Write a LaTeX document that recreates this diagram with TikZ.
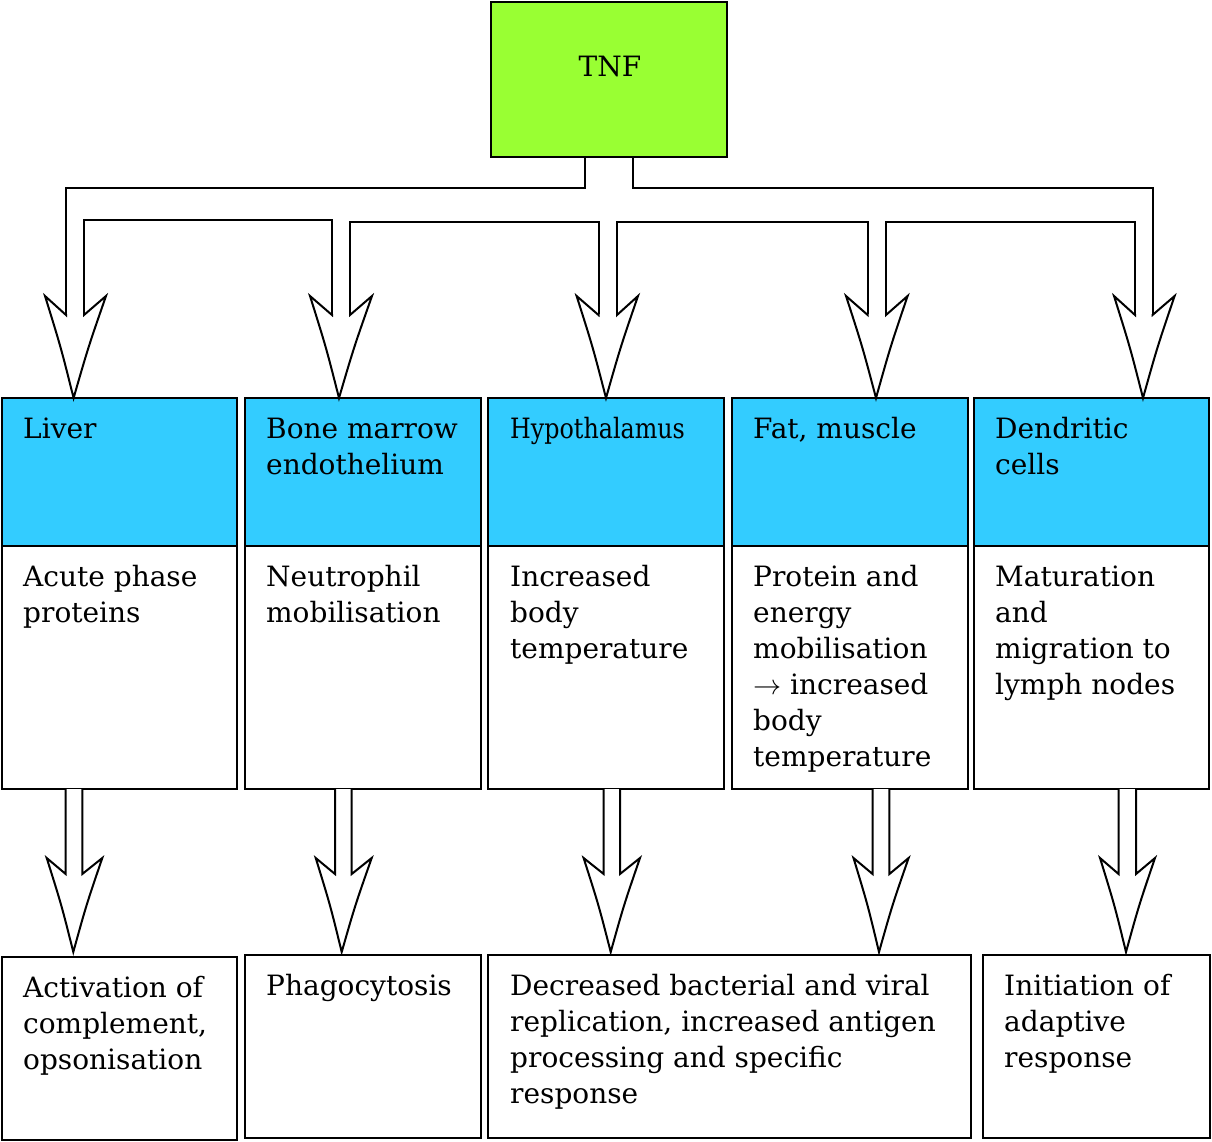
\documentclass[tikz,border=0pt]{standalone}
\usepackage{fontspec}
\setmainfont{DejaVu Serif}
\usetikzlibrary{calc}
\definecolor{tnfgreen}{RGB}{153,255,51}
\definecolor{hdrblue}{RGB}{51,204,255}
\newcommand\blockhead[9]{%
  \draw[arr] (#1,#6) -- (#1,#7) -- (#3,#8)
    .. controls ({(#3+#5)/2+1.5},{(#8+#9)/2}) .. (#5,#9)
    .. controls ({(#4+#5)/2-1.5},{(#8+#9)/2}) .. (#4,#8)
    -- (#2,#7) -- (#2,#6);}
\begin{document}
\begin{tikzpicture}[x=1pt,y=-1pt,
  box/.style={draw=black,line width=2pt},
  arr/.style={draw=black,line width=2pt,fill=white,line join=miter},
  conn/.style={draw=black,line width=2pt},
  txt/.style={anchor=north west,inner sep=0pt,align=left,font=\fontsize{28}{36}\selectfont}]
\useasboundingbox (0,0) rectangle (1212,1142);
\fill[white] (0,0) rectangle (1212,1142);
% TNF
\draw[box,fill=tnfgreen] (491,2) rectangle (727,157);
\node[anchor=base,inner sep=0pt,font=\fontsize{28}{36}\selectfont] (tnf) at (610,77) {TNF};
% header and white boxes
\foreach \l/\r/\n in {2/237/1,245/481/2,488/724/3,732/968/4,974/1209/5}{
  \draw[box,fill=hdrblue] (\l,398) rectangle (\r,546);
  \draw[box,fill=white] (\l,546) rectangle (\r,789);
}
% bottom boxes
\draw[box] (2,957) rectangle (237,1140);
\draw[box] (245,955) rectangle (481,1138);
\draw[box] (488,955) rectangle (971,1138);
\draw[box] (983,955) rectangle (1210,1138);
% header texts (baseline 438)
\node[txt] (h1) at (23,414) {\rule{0pt}{24pt}Liver};
\node[txt] (h2) at (266,414) {\rule{0pt}{24pt}Bone marrow\\endothelium};
\node[txt] (h3) at (510,414) {\rule{0pt}{24pt}\scalebox{0.85}[1]{Hypothalamus}};
\node[txt] (h4) at (753,414) {\rule{0pt}{24pt}Fat, muscle};
\node[txt] (h5) at (995,414) {\rule{0pt}{24pt}Dendritic\\cells};
% white texts (baseline 586)
\node[txt] (w1) at (23,562) {\rule{0pt}{24pt}Acute phase\\proteins};
\node[txt] (w2) at (266,562) {\rule{0pt}{24pt}Neutrophil\\mobilisation};
\node[txt] (w3) at (510,562) {\rule{0pt}{24pt}Increased\\body\\temperature};
\node[txt] (w4) at (753,562) {\rule{0pt}{24pt}Protein and\\energy\\mobilisation\\\scalebox{1.13}{$\rightarrow$} increased\\body\\temperature};
\node[txt] (w5) at (995,562) {\rule{0pt}{24pt}Maturation\\and\\migration to\\lymph nodes};
% bottom texts
\node[txt] (b1) at (23,973) {\rule{0pt}{24pt}Activation of\\complement,\\opsonisation};
\node[txt] (b2) at (266,971) {\rule{0pt}{24pt}Phagocytosis};
\node[txt] (b3) at (510,971) {\rule{0pt}{24pt}Decreased bacterial and viral\\replication, increased antigen\\processing and specific\\response};
\node[txt] (b4) at (1004,971) {\rule{0pt}{24pt}Initiation of\\adaptive\\response};
% top connectors
\draw[conn] (584.5,157) -- (584.5,188) -- (66,188) -- (66,315);
\draw[conn] (632.5,157) -- (632.5,188) -- (1152.5,188) -- (1152.5,315);
\draw[conn] (84,315) -- (84,220) -- (332,220) -- (332,315);
\draw[conn] (350,315) -- (350,221.5) -- (598.5,221.5) -- (598.5,315);
\draw[conn] (617,315) -- (617,221.5) -- (867.7,221.5) -- (867.7,315);
\draw[conn] (886,315) -- (886,221.5) -- (1135,221.5) -- (1135,315);
% top heads
\blockhead{66}{84}{45}{106}{73.6}{314}{315}{296}{398}
\blockhead{332}{350}{310}{372}{339}{314}{315}{296}{398}
\blockhead{598.5}{617}{576.6}{638}{606}{314}{315}{296}{398}
\blockhead{867.7}{886}{846}{907.6}{876}{314}{315}{296}{398}
\blockhead{1135}{1152.5}{1114}{1174.6}{1143}{314}{315}{296}{398}
% bottom arrows
\blockhead{65.7}{82.3}{46.7}{102.3}{73.3}{789}{874}{858}{952}
\blockhead{335}{351.7}{315.7}{371.7}{341.7}{789}{874}{858}{952}
\blockhead{603.7}{620}{583.6}{640}{610.7}{789}{874}{858}{952}
\blockhead{872.6}{889.4}{853.5}{908.6}{879}{789}{874}{858}{952}
\blockhead{1118.6}{1136}{1100}{1155}{1126}{789}{874}{858}{952}
\end{tikzpicture}
\end{document}
